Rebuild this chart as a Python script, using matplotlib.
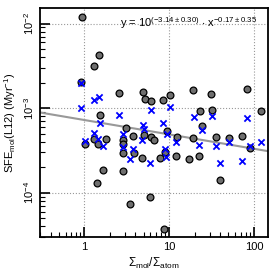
import numpy as np
import matplotlib
matplotlib.use("Agg")
import matplotlib.pyplot as plt
from matplotlib.ticker import LogLocator, FixedLocator, FixedFormatter, NullFormatter

plt.rcParams['font.family'] = ['Liberation Sans', 'DejaVu Sans']
plt.rcParams['mathtext.default'] = 'regular'

# Circles (gray)
circ_x = [0.947, 1.50, 1.31, 0.922, 2.58, 1.54, 3.12, 3.77, 1.31, 1.81, 1.46, 1.03,
          2.88, 2.88, 2.88, 1.67, 1.42, 3.48, 2.88, 3.87, 4.81, 7.84, 8.97, 12.1,
          17.2, 22.5, 39.8, 89.7, 5.97, 8.73, 4.94, 5.22, 6.14, 8.50, 10.3, 19.2,
          31.2, 82.7, 121, 23.2, 32.1, 9.47, 24.4, 19.2, 35.7, 50.8, 72.3, 12.4,
          5.08, 6.14, 6.66]
circ_y = [1.19e-2, 4.23e-3, 3.13e-3, 2.03e-3, 1.50e-3, 8.27e-4, 5.81e-4, 4.67e-4,
          4.31e-4, 4.31e-4, 3.76e-4, 3.76e-4, 4.19e-4, 3.76e-4, 2.94e-4, 1.85e-4,
          1.30e-4, 7.36e-5, 1.80e-4, 2.94e-4, 2.57e-4, 2.57e-4, 3.02e-4, 2.71e-4,
          2.50e-4, 2.71e-4, 1.41e-4, 3.37e-4, 8.90e-5, 3.73e-5, 1.55e-3, 1.28e-3,
          1.21e-3, 1.24e-3, 1.42e-3, 1.63e-3, 1.46e-3, 1.67e-3, 9.22e-4, 9.22e-4,
          9.47e-4, 5.35e-4, 6.13e-4, 4.42e-4, 4.55e-4, 4.42e-4, 4.67e-4, 4.55e-4,
          4.80e-4, 4.55e-4, 4.19e-4]

# Crosses (blue)
cross_x = [0.922, 1.31, 1.50, 0.922, 2.58, 1.54, 1.31, 2.88, 1.03, 1.46, 1.67, 2.88,
           3.77, 3.48, 5.97, 8.97, 9.22, 12.1, 22.5, 35.7, 39.8, 72.3, 89.7, 121,
           4.81, 50.8, 6.14, 10.3, 19.7, 32.1, 82.7, 4.94, 5.08, 8.50, 24.4, 9.47]
cross_y = [1.97e-3, 1.24e-3, 1.35e-3, 1.00e-3, 8.27e-4, 6.65e-4, 5.07e-4, 4.93e-4,
           4.08e-4, 4.31e-4, 3.56e-4, 3.46e-4, 3.28e-4, 2.50e-4, 2.24e-4, 3.28e-4,
           2.64e-4, 3.97e-4, 3.66e-4, 3.56e-4, 2.24e-4, 2.37e-4, 3.56e-4, 3.97e-4,
           4.19e-4, 3.97e-4, 9.47e-4, 1.03e-3, 7.83e-4, 8.05e-4, 7.62e-4, 6.30e-4,
           5.65e-4, 6.65e-4, 5.50e-4, 4.93e-4]

fit_logA = -3.14
fit_slope = -0.17

x_ticks = [1, 10, 100]
x_tick_labels = ['1', '10', '100']
y_ticks = [1e-4, 1e-3, 1e-2]
y_tick_labels = [r'10$^{-4}$', r'10$^{-3}$', r'10$^{-2}$']

fig = plt.figure(figsize=(2.74, 2.74), dpi=100)
ax = fig.add_axes([0.146, 0.135, 0.832, 0.836])
ax.set_xscale('log')
ax.set_yscale('log')
ax.set_xlim(0.30, 146)
ax.set_ylim(3.0e-5, 1.53e-2)

xf = np.logspace(np.log10(0.30), np.log10(146), 50)
ax.plot(xf, 10**fit_logA * xf**fit_slope, color='#999999', lw=1.5, zorder=2)

ax.scatter(circ_x, circ_y, s=24, facecolor='#6e6e6e', edgecolor='black', lw=0.9, zorder=3)
ax.scatter(cross_x, cross_y, s=20, marker='x', color='#0000ff', lw=1.3, zorder=4)

ax.xaxis.set_major_locator(FixedLocator(x_ticks))
ax.xaxis.set_major_formatter(FixedFormatter(x_tick_labels))
ax.yaxis.set_major_locator(FixedLocator(y_ticks))
ax.yaxis.set_major_formatter(FixedFormatter(y_tick_labels))
ax.xaxis.set_minor_locator(LogLocator(base=10, subs=np.arange(2, 10)))
ax.yaxis.set_minor_locator(LogLocator(base=10, subs=np.arange(2, 10)))
ax.xaxis.set_minor_formatter(NullFormatter())
ax.yaxis.set_minor_formatter(NullFormatter())

ax.grid(True, which='major', ls=':', color='#999999', lw=0.8)
ax.tick_params(which='major', direction='in', length=7, width=1.2, labelsize=8)
ax.tick_params(which='minor', direction='in', length=3.5, width=0.8)
ax.tick_params(axis='y', which='major', labelrotation=90, pad=3)
for lab in ax.get_yticklabels():
    lab.set_va('center')
for sp in ax.spines.values():
    sp.set_linewidth(1.3)

ax.set_xlabel(r'$\Sigma_{mol}/\Sigma_{atom}$', fontsize=8.5, labelpad=3)
ax.set_ylabel(r'SFE$_{mol}$(L12) (Myr$^{-1}$)', fontsize=8)
ax.yaxis.set_label_coords(-0.095, 0.5)

ax.text(0.955, 0.935, r'y = 10$^{(-3.14\pm0.30)}$ $\cdot$ x$^{-0.17\pm0.35}$',
        transform=ax.transAxes, ha='right', va='center', fontsize=8)

fig.savefig('out.png', dpi=100)
